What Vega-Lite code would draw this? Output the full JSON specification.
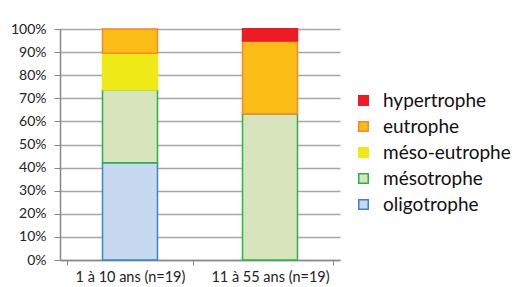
{
  "$schema": "https://vega.github.io/schema/vega-lite/v6.json",
  "autosize": "none",
  "width": 280,
  "height": 231,
  "padding": {"left": 60, "top": 29, "right": 178, "bottom": 27},
  "background": "white",
  "data": {
    "values": [
      {"groupe": "1 à 10 ans (n=19)", "type": "oligotrophe", "rang": 1, "pct": 0.421},
      {"groupe": "1 à 10 ans (n=19)", "type": "mésotrophe", "rang": 2, "pct": 0.316},
      {"groupe": "1 à 10 ans (n=19)", "type": "méso-eutrophe", "rang": 3, "pct": 0.158},
      {"groupe": "1 à 10 ans (n=19)", "type": "eutrophe", "rang": 4, "pct": 0.105},
      {"groupe": "1 à 10 ans (n=19)", "type": "hypertrophe", "rang": 5, "pct": 0.0},
      {"groupe": "11 à 55 ans (n=19)", "type": "oligotrophe", "rang": 1, "pct": 0.0},
      {"groupe": "11 à 55 ans (n=19)", "type": "mésotrophe", "rang": 2, "pct": 0.632},
      {"groupe": "11 à 55 ans (n=19)", "type": "méso-eutrophe", "rang": 3, "pct": 0.0},
      {"groupe": "11 à 55 ans (n=19)", "type": "eutrophe", "rang": 4, "pct": 0.316},
      {"groupe": "11 à 55 ans (n=19)", "type": "hypertrophe", "rang": 5, "pct": 0.053}
    ]
  },
  "transform": [{"filter": "datum.pct > 0"}],
  "mark": {"type": "bar", "width": 55, "strokeWidth": 1.5},
  "encoding": {
    "x": {
      "field": "groupe",
      "type": "nominal",
      "sort": null,
      "axis": {
        "title": null,
        "labelAngle": 0,
        "labelFont": "Lato",
        "labelFontSize": 14.5,
        "labelColor": "#222",
        "labelPadding": 5,
        "tickBand": "extent",
        "tickSize": 5,
        "tickColor": "#888",
        "domainColor": "#888",
        "domainWidth": 1.5,
        "grid": false
      }
    },
    "y": {
      "field": "pct",
      "type": "quantitative",
      "stack": "zero",
      "scale": {"domain": [0, 1], "nice": false},
      "axis": {
        "title": null,
        "format": ".0%",
        "values": [0, 0.1, 0.2, 0.3, 0.4, 0.5, 0.6, 0.7, 0.8, 0.9, 1],
        "labelFont": "Lato",
        "labelFontSize": 14,
        "labelColor": "#222",
        "labelPadding": 8,
        "tickSize": 6,
        "tickColor": "#888",
        "domainColor": "#888",
        "domainWidth": 1.5,
        "gridColor": "#a6a6a6",
        "gridWidth": 1.5
      }
    },
    "order": {"field": "rang", "type": "quantitative", "sort": "ascending"},
    "color": {
      "field": "type",
      "type": "nominal",
      "scale": {
        "domain": ["oligotrophe", "mésotrophe", "méso-eutrophe", "eutrophe", "hypertrophe"],
        "range": ["#c6d9f0", "#d7e4bc", "#f0e918", "#fbbd15", "#ec1c24"]
      },
      "legend": {
        "title": null,
        "orient": "none",
        "legendX": 294,
        "legendY": 62,
        "values": ["hypertrophe", "eutrophe", "méso-eutrophe", "mésotrophe", "oligotrophe"],
        "symbolType": "square",
        "symbolSize": 90,
        "symbolStrokeWidth": 1.5,
        "labelFont": "Lato",
        "labelFontSize": 19,
        "labelColor": "#111",
        "labelOffset": 10,
        "rowPadding": 6
      }
    },
    "stroke": {
      "field": "type",
      "type": "nominal",
      "scale": {
        "domain": ["oligotrophe", "mésotrophe", "méso-eutrophe", "eutrophe", "hypertrophe"],
        "range": ["#3d85c6", "#2fb14a", "#f0e918", "#f08a2c", "#ec1c24"]
      },
      "legend": {
        "title": null,
        "orient": "none",
        "legendX": 294,
        "legendY": 62,
        "values": ["hypertrophe", "eutrophe", "méso-eutrophe", "mésotrophe", "oligotrophe"],
        "symbolType": "square",
        "symbolSize": 90,
        "symbolStrokeWidth": 1.5,
        "labelFont": "Lato",
        "labelFontSize": 19,
        "labelColor": "#111",
        "labelOffset": 10,
        "rowPadding": 6
      }
    }
  },
  "config": {"view": {"stroke": null}}
}
